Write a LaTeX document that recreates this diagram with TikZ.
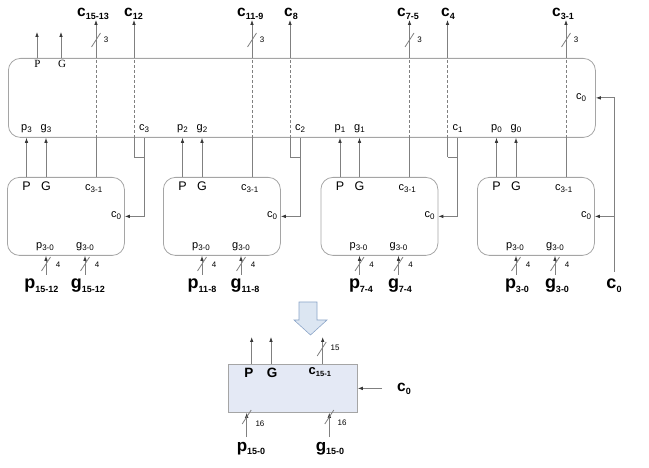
\documentclass[tikz,border=0pt]{standalone}
\usepackage{fontspec}
\setmainfont{Liberation Sans}
\newfontfamily\serifface{Liberation Serif}
\usetikzlibrary{arrows.meta,calc}

\definecolor{wirec}{RGB}{128,128,128}
\definecolor{tipc}{RGB}{55,55,55}
\definecolor{boxc}{RGB}{165,165,165}
\definecolor{unitfill}{RGB}{228,233,245}
\definecolor{hollowfill}{RGB}{220,230,242}
\definecolor{hollowdraw}{RGB}{140,165,200}

% subscript of a given size
\newcommand\sbs[2]{\raisebox{-0.35ex}{\fontsize{#1}{#1}\selectfont #2}}
% bus-width slash through a wire
\newcommand\busmark[1]{\draw[wire] ($(#1)+(-4.5,7)$) -- ($(#1)+(4.5,-7)$);}

\tikzset{
  wire/.style={draw=wirec, line width=0.8pt},
  arr/.style={wire, -{Latex[length=5pt,width=3.6pt,color=tipc]}},
  dashln/.style={draw=wirec, line width=0.6pt, dash pattern=on 3pt off 2pt},
  blk/.style={draw=boxc, line width=0.8pt, rounded corners=12pt, inner sep=0pt},
  lbl/.style={inner sep=0pt, font=\fontsize{11}{11}\selectfont},
  pg/.style={inner sep=0pt, font=\fontsize{12.5}{12.5}\selectfont},
  num/.style={inner sep=0pt, font=\fontsize{8}{8}\selectfont},
  outlbl/.style={inner sep=0pt, anchor=base west, font=\bfseries\fontsize{15.5}{15.5}\selectfont},
  inlbl/.style={inner sep=0pt, anchor=base, font=\bfseries\fontsize{18}{18}\selectfont},
  seriflbl/.style={inner sep=0pt, font=\serifface\fontsize{11}{11}\selectfont},
}

\begin{document}
\begin{tikzpicture}[x=1pt,y=-1pt]
\useasboundingbox (0,0) rectangle (649,468);

% rows used by the wiring
\coordinate (topy) at (0,20);
\coordinate (pgy) at (0,32);
\coordinate (slashy) at (0,40);
\coordinate (rowy) at (0,129);
\coordinate (jy) at (0,157);
\coordinate (iny) at (0,275);
\coordinate (inslash) at (0,264);

% second-level carry-lookahead unit
\node[blk, minimum width=587pt, minimum height=79pt, anchor=north west] (upper) at (8,58) {};
\coordinate (xPo) at (37,0);
\coordinate (xGo) at (61,0);
\draw[arr] (xPo |- upper.north) -- (xPo |- pgy);
\draw[arr] (xGo |- upper.north) -- (xGo |- pgy);
\node[seriflbl] (uP) at (37.5,64) {P};
\node[seriflbl] (uG) at (62,64) {G};
\node[lbl] (uc0) at (581,98) {c\sbs{8}{0}};

% four first-level 4-bit lookahead units
\foreach \L/\n/\k in {7/1/3,163/2/2,320.5/3/1,477/4/0} {
  \node[blk, minimum width=117pt, minimum height=78pt, anchor=north west] (b\n) at (\L,177) {};
  \coordinate (xP\n) at ({\L+19.5},0);
  \coordinate (xG\n) at ({\L+39},0);
  \coordinate (xC\n) at ({\L+89},0);
  \coordinate (xp\n) at ({\L+39},0);
  \coordinate (xg\n) at ({\L+78},0);
  % group P and G into the upper unit
  \draw[arr] (xP\n |- b\n.north) -- (xP\n |- upper.south);
  \draw[arr] (xG\n |- b\n.north) -- (xG\n |- upper.south);
  % internal carries c3-1 pass through the upper unit
  \draw[wire] (xC\n |- b\n.north) -- (xC\n |- upper.south);
  \draw[dashln] (xC\n |- upper.south) -- (xC\n |- upper.north);
  \draw[arr] (xC\n |- upper.north) -- (xC\n |- topy);
  \coordinate (s\n) at (xC\n |- slashy);
  \busmark{s\n}
  \node[num] (w\n) at ($(s\n)+(10,0)$) {3};
  % pin labels on the upper unit
  \node[lbl] (lp\n) at (xP\n |- rowy) {p\sbs{8}{\k}};
  \node[lbl] (lg\n) at (xG\n |- rowy) {g\sbs{8}{\k}};
  % pin labels of the 4-bit unit
  \node[pg] (P\n) at (xP\n |- 0,186) {P};
  \node[pg] (G\n) at (xG\n |- 0,186) {G};
  \node[lbl, anchor=west] (cc\n) at ({\L+78},189) {c\sbs{8}{3-1}};
  \node[lbl] (ci\n) at ({\L+109},216) {c\sbs{8}{0}};
  \node[lbl] (pp\n) at ({\L+38},247) {p\sbs{8}{3-0}};
  \node[lbl] (gg\n) at ({\L+78},247) {g\sbs{8}{3-0}};
  % 4-bit input buses
  \draw[arr] (xp\n |- iny) -- (xp\n |- b\n.south);
  \draw[arr] (xg\n |- iny) -- (xg\n |- b\n.south);
  \coordinate (ps\n) at (xp\n |- inslash);
  \coordinate (gs\n) at (xg\n |- inslash);
  \busmark{ps\n}
  \busmark{gs\n}
  \node[num] (pw\n) at ($(ps\n)+(12,1)$) {4};
  \node[num] (gw\n) at ($(gs\n)+(12,1)$) {4};
}

% group carries c12, c8, c4 fed back as carry-in of the next unit
\foreach \L/\n/\k in {7/1/3,163/2/2,320.5/3/1} {
  \coordinate (xO\n) at ({\L+127},0);
  \coordinate (xR\n) at ({\L+137},0);
  \draw[wire] (xO\n |- jy) -- (xO\n |- upper.south);
  \draw[dashln] (xO\n |- upper.south) -- (xO\n |- upper.north);
  \draw[arr] (xO\n |- upper.north) -- (xO\n |- topy);
  \draw[wire] (xO\n |- jy) -- (xR\n |- jy);
  \draw[arr] (xR\n |- upper.south) |- (b\n.east);
  \node[lbl] (lc\n) at (xR\n |- rowy) {c\sbs{8}{\k}};
}

% carry-in c0
\coordinate (cin) at (614,272);
\draw[arr] (cin) |- (upper.east);
\draw[arr] (cin |- b4.east) -- (b4.east);
\node[inlbl] (c0in) at (614,289) {c\sbs{9}{0}};

% output labels
\node[outlbl] (o1) at (77,17) {c\sbs{9}{15-13}};
\node[outlbl] (o2) at (124,17) {c\sbs{9}{12}};
\node[outlbl] (o3) at (237,17) {c\sbs{9}{11-9}};
\node[outlbl] (o4) at (284,17) {c\sbs{9}{8}};
\node[outlbl] (o5) at (397,17) {c\sbs{9}{7-5}};
\node[outlbl] (o6) at (441,17) {c\sbs{9}{4}};
\node[outlbl] (o7) at (552,17) {c\sbs{9}{3-1}};

% input labels
\node[inlbl] (i1) at (41.5,289) {p\sbs{9}{15-12}};
\node[inlbl] (i2) at (88,289) {g\sbs{9}{15-12}};
\node[inlbl] (i3) at (202,289) {p\sbs{9}{11-8}};
\node[inlbl] (i4) at (245,289) {g\sbs{9}{11-8}};
\node[inlbl] (i5) at (361,289) {p\sbs{9}{7-4}};
\node[inlbl] (i6) at (400,289) {g\sbs{9}{7-4}};
\node[inlbl] (i7) at (517,289) {p\sbs{9}{3-0}};
\node[inlbl] (i8) at (557,289) {g\sbs{9}{3-0}};

% equivalence arrow
\draw[hollowdraw, fill=hollowfill, line width=0.6pt]
  (299,302) -- (317,302) -- (317,320) -- (327,320) -- (310.5,335)
  -- (294,320) -- (299,320) -- cycle;

% the 16-bit unit as a single block
\node[draw=boxc, fill=unitfill, line width=0.8pt, minimum width=129pt, minimum height=48pt,
      inner sep=0pt, anchor=north west] (sum) at (228,364) {};
\coordinate (oy) at (0,337);
\coordinate (sP) at (251.7,0);
\coordinate (sG) at (271,0);
\coordinate (sC) at (322.7,0);
\coordinate (sp) at (246.7,0);
\coordinate (sg) at (329.3,0);
\coordinate (sin) at (0,437);
\draw[arr] (sP |- sum.north) -- (sP |- oy);
\draw[arr] (sG |- sum.north) -- (sG |- oy);
\draw[arr] (sC |- sum.north) -- (sC |- oy);
\coordinate (sCs) at (321.7,349);
\busmark{sCs}
\node[num] (w15) at (335,348) {15};
\node[inner sep=0pt, font=\bfseries\fontsize{13.5}{13.5}\selectfont] (sPl) at (249,373) {P};
\node[inner sep=0pt, font=\bfseries\fontsize{13.5}{13.5}\selectfont] (sGl) at (272,373) {G};
\node[inner sep=0pt, anchor=west, font=\bfseries\fontsize{13}{13}\selectfont] (sCl) at (308.5,372) {c\sbs{7.5}{15-1}};

\coordinate (sc0) at (382,0);
\draw[arr] (sc0 |- sum.east) -- (sum.east);
\node[inner sep=0pt, font=\bfseries\fontsize{15.5}{15.5}\selectfont] (sc0l) at (404,389) {c\sbs{9}{0}};

\draw[arr] (sp |- sin) -- (sp |- sum.south);
\draw[arr] (sg |- sin) -- (sg |- sum.south);
\coordinate (sps) at (246.7,417);
\coordinate (sgs) at (329.3,417);
\busmark{sps}
\busmark{sgs}
\node[num] (w16a) at (260,424) {16};
\node[num] (w16b) at (342,423) {16};
\node[inlbl, font=\bfseries\fontsize{17}{17}\selectfont] (sp0) at (251,451) {p\sbs{9}{15-0}};
\node[inlbl, font=\bfseries\fontsize{17}{17}\selectfont] (sg0) at (330,451) {g\sbs{9}{15-0}};
\end{tikzpicture}
\end{document}
